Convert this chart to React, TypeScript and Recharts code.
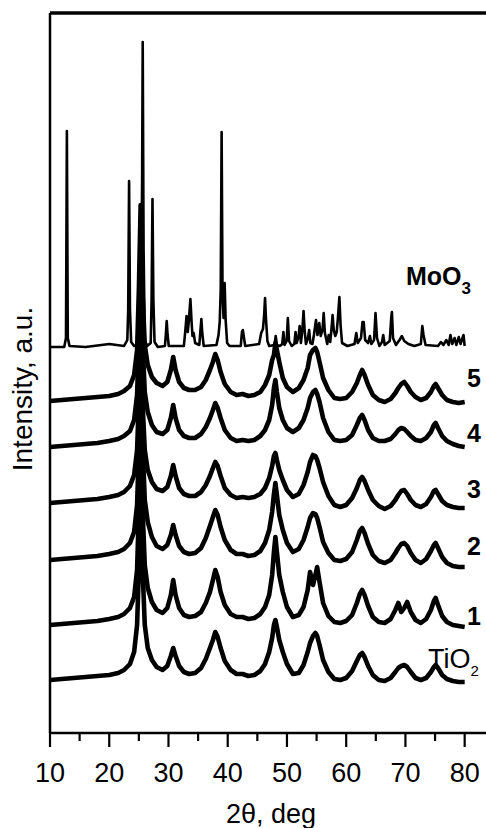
import React from 'react';
import { LineChart, Line, XAxis, YAxis, ReferenceLine } from 'recharts';

const WIDTH = 486;
const HEIGHT = 828;
const FONT = '"Liberation Sans", Arial, Helvetica, sans-serif';

// Diffraction angle grid (2θ, deg) shared by the TiO2-based samples
const ANGLES = [
  10, 12, 14, 16, 18, 20, 21.5, 22.5, 23.5, 24.2,
  24.7, 25.0, 25.3, 25.6, 26.0, 26.5, 27.2, 28.0, 29.0, 29.8,
  30.4, 30.8, 31.2, 31.8, 32.6, 33.5, 34.5, 35.5, 36.3, 37.0,
  37.5, 37.9, 38.3, 38.8, 39.5, 40.5, 41.5, 42.5, 43.5, 44.5,
  45.5, 46.3, 47.0, 47.5, 47.8, 48.05, 48.3, 48.7, 49.3, 50.0,
  51.0, 52.0, 52.8, 53.5, 53.9, 54.4, 54.8, 55.1, 55.5, 56.1,
  57.0, 58.0, 59.0, 60.0, 61.0, 61.8, 62.3, 62.7, 63.1, 63.7,
  64.5, 65.5, 66.5, 67.5, 68.3, 68.8, 69.3, 69.8, 70.3, 70.9,
  71.7, 72.6, 73.5, 74.3, 74.8, 75.1, 75.5, 76.2, 77.0, 78.0,
  79.0, 80.0,
];

// Stacked intensities (a.u., offset per pattern)
const TIO2 = [
  53, 54, 55, 56, 57, 58, 60, 63, 69, 81,
  108, 163, 263, 168, 108, 85, 73, 66, 63, 67,
  77, 85, 77, 67, 61, 59, 60, 65, 74, 85,
  93, 101, 96, 85, 72, 63, 59, 59, 57, 58,
  62, 69, 81, 95, 108, 113, 106, 93, 81, 69,
  59, 60, 68, 81, 90, 97, 100, 97, 88, 73,
  61, 54, 53, 55, 62, 72, 78, 80, 76, 67,
  58, 53, 52, 55, 61, 65, 67, 68, 66, 61,
  55, 53, 55, 61, 66, 68, 65, 58, 54, 52,
  51, 51,
];
const SAMPLE_1 = [
  108, 109, 110, 111, 112, 114, 116, 119, 125, 136,
  163, 223, 333, 228, 168, 145, 131, 123, 120, 125,
  138, 153, 138, 125, 118, 116, 117, 121, 130, 141,
  153, 163, 156, 141, 128, 119, 116, 116, 114, 115,
  119, 126, 138, 158, 181, 196, 181, 158, 141, 126,
  116, 118, 126, 143, 161, 148, 158, 166, 151, 130,
  117, 111, 110, 112, 118, 130, 139, 143, 138, 127,
  116, 111, 110, 114, 123, 130, 121, 125, 131, 121,
  113, 110, 114, 123, 132, 135, 128, 117, 111, 108,
  107, 106,
];
const SAMPLE_2 = [
  173, 174, 175, 176, 177, 179, 181, 184, 190, 201,
  228, 283, 403, 293, 233, 211, 196, 187, 184, 188,
  198, 208, 198, 187, 181, 179, 180, 185, 195, 207,
  216, 223, 218, 206, 193, 183, 179, 179, 177, 178,
  182, 190, 203, 221, 239, 250, 238, 218, 203, 190,
  181, 184, 193, 206, 215, 220, 219, 215, 206, 191,
  180, 173, 172, 174, 181, 193, 202, 205, 200, 189,
  178, 172, 170, 173, 180, 185, 189, 190, 187, 180,
  173, 170, 174, 182, 188, 190, 185, 176, 170, 167,
  166, 166,
];
const SAMPLE_3 = [
  230, 231, 232, 233, 234, 236, 238, 241, 247, 258,
  283, 333, 413, 333, 283, 263, 251, 244, 242, 246,
  257, 268, 257, 245, 239, 237, 237, 241, 248, 257,
  265, 271, 267, 257, 245, 238, 235, 236, 235, 236,
  239, 245, 255, 267, 277, 280, 273, 263, 253, 243,
  236, 239, 248, 261, 271, 278, 277, 273, 265, 251,
  237, 228, 226, 228, 235, 245, 253, 256, 252, 243,
  233, 227, 224, 227, 233, 238, 242, 243, 239, 233,
  228, 226, 229, 236, 242, 243, 239, 232, 228, 226,
  225, 225,
];
const SAMPLE_4 = [
  286, 287, 288, 289, 290, 292, 294, 297, 302, 313,
  338, 393, 473, 393, 341, 321, 308, 301, 299, 303,
  315, 328, 315, 303, 297, 295, 295, 299, 306, 315,
  323, 330, 325, 315, 303, 295, 292, 293, 292, 293,
  297, 303, 313, 328, 345, 353, 341, 325, 313, 305,
  301, 305, 313, 325, 335, 341, 343, 339, 331, 315,
  301, 293, 292, 293, 298, 308, 315, 318, 313, 303,
  295, 292, 292, 294, 299, 303, 305, 304, 301, 297,
  293, 292, 295, 301, 308, 310, 305, 297, 292, 289,
  287, 286,
];
const SAMPLE_5 = [
  332, 333, 334, 335, 336, 337, 339, 342, 347, 358,
  383, 443, 528, 443, 388, 368, 356, 350, 347, 351,
  363, 376, 363, 351, 345, 343, 343, 346, 353, 363,
  371, 379, 373, 361, 349, 341, 338, 339, 337, 338,
  341, 348, 358, 373, 378, 390, 383, 371, 355, 346,
  341, 345, 353, 365, 378, 383, 385, 381, 371, 355,
  343, 335, 334, 335, 341, 350, 358, 363, 358, 348,
  338, 333, 331, 334, 340, 345, 349, 351, 347, 341,
  336, 333, 335, 341, 347, 349, 345, 338, 333, 331,
  330, 331,
];

// Reference MoO3 pattern: [2θ, intensity]
const MOO3_PATTERN: [number, number][] = [
  [10, 386], [12.4, 386], [12.7, 395], [12.85, 602], [13.0, 395], [13.3, 387],
  [16, 386], [20, 389], [22.5, 387], [23.05, 393], [23.2, 423], [23.35, 552],
  [23.5, 423], [23.7, 391], [24.2, 387], [25.1, 388], [25.4, 443], [25.55, 553],
  [25.65, 691], [25.8, 483], [26.0, 393], [26.4, 387], [27.0, 390], [27.15, 433],
  [27.3, 534], [27.45, 433], [27.65, 391], [28.2, 386], [29.4, 387], [29.55, 398],
  [29.7, 412], [29.85, 398], [30.05, 387], [32.6, 387], [32.85, 403], [33.05, 417],
  [33.25, 401], [33.45, 413], [33.7, 434], [33.9, 411], [34.05, 397], [34.25, 400],
  [34.5, 390], [35.2, 388], [35.4, 403], [35.55, 414], [35.7, 400], [35.95, 387],
  [38.1, 388], [38.45, 398], [38.65, 411], [38.82, 443], [38.97, 601], [39.12, 443],
  [39.3, 415], [39.48, 450], [39.65, 413], [39.9, 390], [40.3, 387], [42.2, 387],
  [42.4, 401], [42.55, 403], [42.7, 397], [42.95, 387], [45.3, 389], [45.65, 400],
  [45.95, 404], [46.15, 418], [46.3, 435], [46.45, 415], [46.7, 392], [47.0, 387],
  [47.9, 388], [48.1, 397], [48.3, 388], [48.8, 387], [49.2, 389], [49.4, 401],
  [49.6, 388], [49.95, 392], [50.15, 415], [50.35, 392], [50.8, 387], [51.25, 389],
  [51.45, 401], [51.65, 390], [51.95, 396], [52.15, 407], [52.35, 390], [52.6, 403],
  [52.8, 422], [52.98, 403], [53.2, 389], [53.55, 395], [53.75, 403], [53.95, 390],
  [54.3, 389], [54.55, 398], [54.9, 413], [55.15, 398], [55.45, 410], [55.7, 397],
  [56.0, 403], [56.2, 420], [56.4, 400], [56.8, 389], [57.05, 398], [57.3, 391],
  [57.55, 406], [57.7, 418], [57.9, 403], [58.15, 397], [58.4, 401], [58.6, 415],
  [58.85, 436], [59.05, 408], [59.3, 390], [60.2, 387], [61.4, 389], [61.7, 400],
  [61.95, 390], [62.5, 395], [62.75, 411], [62.95, 411], [63.2, 393], [63.7, 390],
  [64.0, 397], [64.25, 389], [64.7, 393], [64.95, 420], [65.2, 395], [65.6, 387],
  [66.05, 391], [66.25, 398], [66.5, 388], [67.35, 392], [67.6, 415], [67.72, 421],
  [67.9, 395], [68.4, 388], [69.0, 393], [69.4, 397], [69.8, 392], [70.5, 389],
  [71.5, 387], [72.6, 389], [72.85, 407], [73.05, 398], [73.4, 388], [75.5, 387],
  [76.0, 391], [76.4, 388], [76.9, 393], [77.3, 388], [77.6, 398], [77.9, 389],
  [78.3, 395], [78.6, 388], [79.0, 396], [79.3, 389], [79.8, 398], [80.0, 387],
];

const X_TICKS = [10, 15, 20, 25, 30, 35, 40, 45, 50, 55, 60, 65, 70, 75, 80];
const X_DOMAIN: [number, number] = [10, 83.6];
const Y_DOMAIN: [number, number] = [0, 720];

const SERIES_KEYS = ['tio2', 's1', 's2', 's3', 's4', 's5'];

const patternTable = ANGLES.map((angle, i) => ({
  angle,
  tio2: TIO2[i],
  s1: SAMPLE_1[i],
  s2: SAMPLE_2[i],
  s3: SAMPLE_3[i],
  s4: SAMPLE_4[i],
  s5: SAMPLE_5[i],
}));

const moo3Table = MOO3_PATTERN.map(([angle, value]) => ({ angle, moo3: value }));

function AngleTick(props: any) {
  const { x, y, payload } = props;
  const major = payload.value % 10 === 0;
  return (
    <g>
      <line x1={x} y1={y} x2={x} y2={y + (major ? 14 : 8)} stroke="#000" strokeWidth={2.2} />
      {major && (
        <text x={x} y={y + 49} textAnchor="middle" fontSize={27} fontFamily={FONT} fill="#000">
          {payload.value}
        </text>
      )}
    </g>
  );
}

export default function App() {
  return (
    <div style={{ position: 'absolute', left: 0, top: 0, width: WIDTH, height: HEIGHT, overflow: 'hidden', background: '#fff' }}>
      <LineChart
        width={WIDTH}
        height={HEIGHT}
        data={patternTable}
        margin={{ top: 13, right: 0, bottom: 0, left: 0 }}
      >
        <XAxis
          dataKey="angle"
          type="number"
          domain={X_DOMAIN}
          allowDataOverflow
          ticks={X_TICKS}
          interval={0}
          height={95}
          tickSize={0}
          tickMargin={0}
          tickLine={false}
          tick={<AngleTick />}
          axisLine={{ stroke: '#000', strokeWidth: 2.5 }}
        />
        <YAxis
          type="number"
          domain={Y_DOMAIN}
          allowDataOverflow
          width={50}
          tick={false}
          tickLine={false}
          axisLine={{ stroke: '#000', strokeWidth: 2.5 }}
        />
        <ReferenceLine y={Y_DOMAIN[1]} stroke="#000" strokeWidth={3.5} />
        <Line
          data={moo3Table}
          dataKey="moo3"
          type="linear"
          stroke="#000"
          strokeWidth={2.6}
          dot={false}
          isAnimationActive={false}
          strokeLinejoin="round"
        />
        {SERIES_KEYS.map((k) => (
          <Line
            key={k}
            dataKey={k}
            type="linear"
            stroke="#000"
            strokeWidth={4.6}
            dot={false}
            isAnimationActive={false}
            strokeLinejoin="round"
          />
        ))}
      </LineChart>
      <svg
        width={WIDTH}
        height={HEIGHT}
        style={{ position: 'absolute', left: 0, top: 0, pointerEvents: 'none' }}
        fontFamily={FONT}
      >
        <text
          x={22}
          y={389}
          transform="rotate(-90 22 389)"
          textAnchor="middle"
          dominantBaseline="central"
          fontSize={28}
          fill="#000"
        >
          Intensity, a.u.
        </text>
        <text x={271} y={823} textAnchor="middle" fontSize={27} fill="#000">
          2θ, deg
        </text>
        <text x={406} y={285} fontSize={25} fontWeight="bold" fill="#000">
          MoO<tspan fontSize={17} dy={9}>3</tspan>
        </text>
        <text x={467} y={387} fontSize={25} fontWeight="bold" fill="#000">5</text>
        <text x={467} y={442} fontSize={25} fontWeight="bold" fill="#000">4</text>
        <text x={467} y={498} fontSize={25} fontWeight="bold" fill="#000">3</text>
        <text x={467} y={555} fontSize={25} fontWeight="bold" fill="#000">2</text>
        <text x={467} y={625} fontSize={25} fontWeight="bold" fill="#000">1</text>
        <text x={428} y={668} fontSize={27} fill="#000">
          TiO<tspan fontSize={15} dy={8}>2</tspan>
        </text>
      </svg>
    </div>
  );
}
